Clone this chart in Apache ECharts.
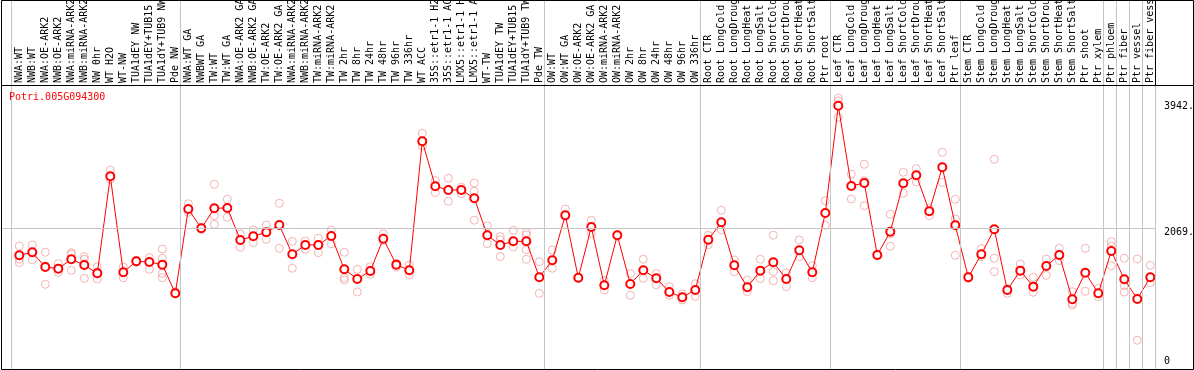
<!DOCTYPE html>
<html>
<head>
<meta charset="utf-8">
<script src="https://cdn.jsdelivr.net/npm/echarts@6/dist/echarts.min.js"></script>
<style>
html,body{margin:0;padding:0;background:#fff;}
#chart{width:1194px;height:370px;}
</style>
</head>
<body>
<div id="chart"></div>
<script>
const geneName = 'Potri.005G094300';

const categories = [
  'NWA:WT','NWB:WT','NWA:OE-ARK2','NWB:OE-ARK2','NWA:miRNA-ARK2','NWB:miRNA-ARK2','NW 0hr','WT H2O','WT-NW','TUA1dEY NW','TUA1dEY+TUB15','TUA1dY+TUB9 NW','Pde NW',
  'NWA:WT GA','NWBWT GA','TW:WT','TW:WT GA','NWA:OE-ARK2 GA','NWB:OE-ARK2 GA','TW:OE-ARK2','TW:OE-ARK2 GA','NWA:miRNA-ARK2 GA','NWB:miRNA-ARK2 GA','TW:miRNA-ARK2','TW:miRNA-ARK2 GA',
  'TW 2hr','TW 8hr','TW 24hr','TW 48hr','TW 96hr','TW 336hr','WT ACC','35S::etr1-1 H2O','35S::etr1-1 ACC','LMX5::etr1-1 H2O','LMX5::etr1-1 ACC','WT-TW','TUA1dEY TW','TUA1dEY+TUB15','TUA1dY+TUB9 TW','Pde TW',
  'OW:WT','OW:WT GA','OW:OE-ARK2','OW:OE-ARK2 GA','OW:miRNA-ARK2','OW:miRNA-ARK2 GA','OW 2hr','OW 8hr','OW 24hr','OW 48hr','OW 96hr','OW 336hr',
  'Root CTR','Root LongCold','Root LongDrought','Root LongHeat','Root LongSalt','Root ShortCold','Root ShortDrought','Root ShortHeat','Root ShortSalt','Ptr root',
  'Leaf CTR','Leaf LongCold','Leaf LongDrought','Leaf LongHeat','Leaf LongSalt','Leaf ShortCold','Leaf ShortDrought','Leaf ShortHeat','Leaf ShortSalt','Ptr leaf',
  'Stem CTR','Stem LongCold','Stem LongDrought','Stem LongHeat','Stem LongSalt','Stem ShortCold','Stem ShortDrought','Stem ShortHeat','Stem ShortSalt','Ptr shoot','Ptr xylem',
  'Ptr phloem','Ptr fiber','Ptr vessel','Ptr fiber vessel'
];

const means = [
  1663,1708,1489,1465,1604,1519,1395,2837,1410,1574,1564,1524,1098,
  2352,2064,2362,2367,1891,1946,2005,2114,1678,1817,1817,1950,1455,1311,1430,1910,1524,1440,3358,2689,2634,2634,2511,1961,1817,1871,1871,1336,
  1589,2258,1330,2084,1217,1961,1237,1440,1321,1118,1039,1148,
  1895,2154,1514,1188,1435,1559,1311,1737,1410,2292,
  3887,2694,2738,1668,2015,2734,2853,2318,2972,2109,
  1336,1678,2050,1148,1435,1197,1504,1668,1009,1405,1098,
  1727,1306,1014,1336
];

const replicates = [
  [1802,1604,1553],[1817,1598],[1708,1504,1232],[1539,1410],[1702,1678,1440],[1643,1604,1321],[1494,1420,1311],[2931,2793],[1489,1330],[1590,1560],[1628,1455],[1757,1619,1395,1330],[1122,1088],
  [2430,2302],[2080,2050],[2719,2252,2124],[2496,2228],[1980,1782],[2040,1851],[2114,1901],[2436,1767],[1871,1470],[1876,1753],[1916,1702],[2040,1836],[1708,1330,1296],[1455,1118],[1494,1381],[1980,1880],[1544,1489],[1519,1371],[3477,3288],[2772,2594],[2808,2466],[2674,2579],[2738,2615,2184],[2099,1836],[1940,1895,1643],[2035,1787],[2000,1965,1747,1604],[1568,1098],
  [1742,1470],[2352,2240],[1330,1320],[2184,1990],[1286,1148],[1970,1950],[1390,1069],[1604,1321],[1390,1226],[1197,1069],[1088,999],[1241,1054],
  [1961,1821],[2332,2040],[1594,1420],[1292,1122],[1604,1316],[1961,1420,1286],[1400,1197],[1891,1643],[1509,1330],[2475,2109],
  [4002,3957,3715],[2868,2500],[3016,2772,2401],[1680,1655],[2273,1980,1797],[2897,2585],[2951,2753],[2362,2252],[3194,2748],[2496,2203,1663],
  [1356,1320],[1762,1643],[3090,1619,1420],[1167,1098],[1534,1371],[1336,1113],[1608,1366],[1767,1583],[1122,950,925],[1767,1128],[1173,1048],
  [1866,1802,1509],[1619,1212,1118],[1608,400],[1514,1256]
];

// indices where a new sample group starts (vertical separators)
const groupStarts = [0, 13, 41, 53, 63, 73, 84, 85, 86, 87, 88];

const yTickValues = [0, 2069, 3942];
const yTickLabels = ['0', '2069.', '3942.'];

const FONT = 'DejaVu Sans Mono';

const meanData = means.map((v, i) => [i, v]);
const repData = [];
replicates.forEach((arr, i) => arr.forEach(v => repData.push([i, v])));

const chart = echarts.init(document.getElementById('chart'), null, {renderer: 'canvas'});

chart.setOption({
  animation: false,
  backgroundColor: '#fff',
  title: {
    text: geneName,
    left: 9, top: 92, padding: 0,
    textStyle: {color: '#ff0000', fontSize: 10, fontFamily: FONT, fontWeight: 'normal'}
  },
  grid: {left: 1, right: 39, top: 0, bottom: 1, containLabel: false, outerBoundsMode: 'none'},
  xAxis: {
    type: 'value',
    position: 'top',
    offset: -85,
    min: -1.4077,
    max: 87.362,
    axisLine: {show: false},
    axisTick: {show: false},
    splitLine: {show: false},
    axisLabel: {
      customValues: categories.map((_, i) => i),
      formatter: v => categories[Math.round(v)] || '',
      rotate: 90,
      margin: 2,
      fontSize: 10,
      fontFamily: FONT,
      color: '#000',
      hideOverlap: false
    }
  },
  yAxis: {
    type: 'value',
    position: 'right',
    min: -27,
    max: 5458,
    axisLine: {show: false},
    axisTick: {show: false},
    splitLine: {show: false},
    axisLabel: {
      customValues: yTickValues,
      margin: 9,
      fontSize: 10,
      fontFamily: FONT,
      color: '#000',
      formatter: v => {
        const idx = yTickValues.indexOf(Math.round(v));
        const txt = idx >= 0 ? yTickLabels[idx] : '';
        return Math.round(v) === 0 ? '{b|' + txt + '}' : '{a|' + txt + '}';
      },
      rich: {
        a: {padding: [9, 0, 0, 0], fontSize: 10, fontFamily: FONT, color: '#000'},
        b: {padding: [0, 0, 11, 0], fontSize: 10, fontFamily: FONT, color: '#000'}
      }
    }
  },
  series: [
    {
      type: 'scatter',
      data: repData,
      symbol: 'circle',
      symbolSize: 8,
      itemStyle: {color: 'rgba(0,0,0,0)', borderColor: '#f0a0a0', borderWidth: 1},
      emphasis: {disabled: true},
      z: 2,
      markLine: {
        silent: true,
        symbol: 'none',
        label: {show: false},
        emphasis: {disabled: true},
        lineStyle: {color: '#c4c4c4', width: 1, type: 'solid'},
        data: groupStarts.map(g => ({xAxis: g - 0.646})).concat([{yAxis: 2069}])
      }
    },
    {
      type: 'line',
      data: meanData,
      symbol: 'emptyCircle',
      symbolSize: 8,
      lineStyle: {color: '#ff0000', width: 1},
      itemStyle: {color: '#ff0000', borderWidth: 1.3},
      emphasis: {disabled: true},
      z: 3
    }
  ],
  graphic: [
    {type: 'rect', silent: true, z: 100, shape: {x: 1.5, y: 0.5, width: 1192, height: 369}, style: {fill: 'none', stroke: '#000', lineWidth: 1}},
    {type: 'line', silent: true, z: 100, shape: {x1: 1, y1: 85.5, x2: 1193, y2: 85.5}, style: {stroke: '#000', lineWidth: 1}},
    {type: 'line', silent: true, z: 100, shape: {x1: 1155.5, y1: 0, x2: 1155.5, y2: 85}, style: {stroke: '#000', lineWidth: 1}}
  ]
});
</script>
</body>
</html>
